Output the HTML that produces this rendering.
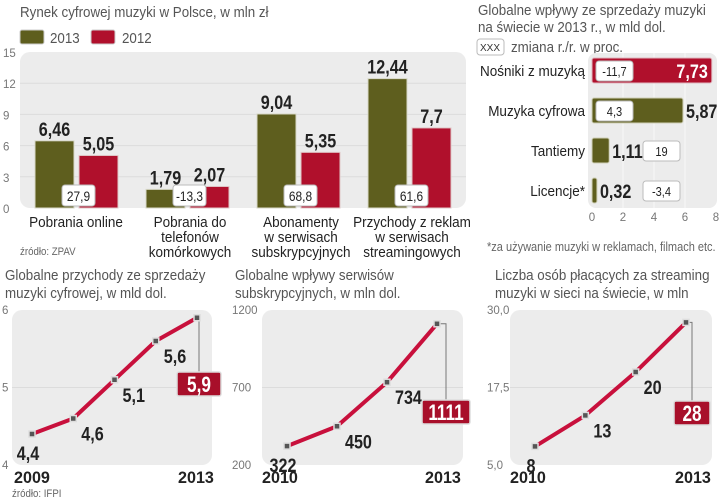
<!DOCTYPE html>
<html><head><meta charset="utf-8"><style>
body{margin:0;background:#fff}
svg{display:block;font-family:"Liberation Sans",sans-serif}
.t{fill:#555;font-size:15px}
.tk{fill:#777;font-size:11.5px}
.cat{fill:#222;font-size:15px}
.v{font-family:"Liberation Sans Narrow","Liberation Sans",sans-serif;font-weight:bold;font-size:19px;fill:#222}
.src{fill:#666;font-size:11px}
</style></head><body>
<svg id="c" width="720" height="501" viewBox="0 0 720 501">
<!-- Chart 1 -->
<text class="t" x="20" y="17">Rynek cyfrowej muzyki w Polsce, w mln zł</text>
<rect x="20" y="30" width="24" height="14" rx="2" fill="#5e5e1e" stroke="#ccc"/>
<text class="t" x="50" y="43">2013</text>
<rect x="91" y="30" width="24" height="14" rx="2" fill="#b0102c" stroke="#ccc"/>
<text class="t" x="122" y="43">2012</text>
<rect x="20" y="52" width="446" height="156" rx="10" fill="#ececec"/>
<g id="g1"></g>
<text class="cat" text-anchor="middle" x="76" y="227">Pobrania online</text>
<text class="cat" text-anchor="middle" x="190" y="227">Pobrania do</text>
<text class="cat" text-anchor="middle" x="190" y="242">telefonów</text>
<text class="cat" text-anchor="middle" x="190" y="257">komórkowych</text>
<text class="cat" text-anchor="middle" x="301" y="227">Abonamenty</text>
<text class="cat" text-anchor="middle" x="301" y="242">w serwisach</text>
<text class="cat" text-anchor="middle" x="301" y="257">subskrypcyjnych</text>
<text class="cat" text-anchor="middle" x="412" y="227">Przychody z reklam</text>
<text class="cat" text-anchor="middle" x="412" y="242">w serwisach</text>
<text class="cat" text-anchor="middle" x="412" y="257">streamingowych</text>
<text class="src" x="20" y="255">źródło: ZPAV</text>
<!-- Chart 2 -->
<text class="t" x="478" y="15">Globalne wpływy ze sprzedaży muzyki</text>
<text class="t" x="478" y="32">na świecie w 2013 r., w mld dol.</text>
<rect x="477" y="39" width="27" height="16" rx="3" fill="#fff" stroke="#bbb"/>
<text x="490" y="51" text-anchor="middle" font-size="10" fill="#333">XXX</text>
<text class="t" x="511" y="52" font-size="14">zmiana r./r. w proc.</text>
<rect x="588" y="53" width="129" height="155" rx="8" fill="#ececec"/>
<g id="g2"></g>
<text class="src" x="487" y="251" style="font-size:12.5px">*za używanie muzyki w reklamach, filmach etc.</text>
<!-- Line charts -->
<text class="t" x="5" y="280">Globalne przychody ze sprzedaży</text>
<text class="t" x="5" y="298">muzyki cyfrowej, w mld dol.</text>
<text class="t" x="235" y="280">Globalne wpływy serwisów</text>
<text class="t" x="235" y="298">subskrypcyjnych, w mln dol.</text>
<text class="t" x="495" y="280">Liczba osób płacących za streaming</text>
<text class="t" x="495" y="298">muzyki w sieci na świecie, w mln</text>
<text class="src" x="12" y="497">źródło: IFPI</text>
<g id="g3"></g>
</svg>
<script>
const barCats=['Pobrania online','Pobrania do telefonów komórkowych','Abonamenty w serwisach subskrypcyjnych','Przychody z reklam w serwisach streamingowych'];
const v2013=[6.46,1.79,9.04,12.44];
const v2012=[5.05,2.07,5.35,7.7];
const lbl2013=['6,46','1,79','9,04','12,44'];
const lbl2012=['5,05','2,07','5,35','7,7'];
const chg1=['27,9','-13,3','68,8','61,6'];
const yTicks1=[0,3,6,9,12,15];

const hCats=['Nośniki z muzyką','Muzyka cyfrowa','Tantiemy','Licencje*'];
const hVals=[7.73,5.87,1.11,0.32];
const hLbls=['7,73','5,87','1,11','0,32'];
const hChg=['-11,7','4,3','19','-3,4'];
const xTicks2=[0,2,4,6,8];

const lc1Vals=[4.4,4.6,5.1,5.6,5.9];
const lc1Lbls=['4,4','4,6','5,1','5,6','5,9'];
const lc1Ticks=['4','5','6'];
const lc2Vals=[322,450,734,1111];
const lc2Lbls=['322','450','734','1111'];
const lc2Ticks=['200','700','1200'];
const lc3Vals=[8,13,20,28];
const lc3Lbls=['8','13','20','28'];
const lc3Ticks=['5,0','17,5','30,0'];

const NS='http://www.w3.org/2000/svg';
function mk(parent,tag,attrs,name,text){
  const el=document.createElementNS(NS,tag);
  for(const k in attrs) el.setAttribute(k,attrs[k]);
  
  
  if(text!==undefined) el.textContent=text;
  parent.appendChild(el);return el;
}
const OL='#5e5e1e', RD='#b0102c';
// chart 1
const g1=document.getElementById('g1');
const y1=v=>208-v*10.4;
yTicks1.forEach(t=>{
  mk(g1,'text',{x:3,y:y1(t)+5,class:'tk'},'y-tick-label',String(t));
  if(t>0&&t<15) mk(g1,'line',{x1:20,x2:466,y1:y1(t),y2:y1(t),stroke:'#dcdcdc','stroke-width':1},'gridline');
});
barCats.forEach((c,i)=>{
  const gx=35+i*111, w=39;
  mk(g1,'rect',{x:gx,y:y1(v2013[i]),width:w,height:208-y1(v2013[i]),fill:OL,stroke:'#d8d8c8','stroke-width':1},'bar-2013');
  mk(g1,'rect',{x:gx+44,y:y1(v2012[i]),width:w,height:208-y1(v2012[i]),fill:RD,stroke:'#e0c8c8','stroke-width':1},'bar-2012');
  mk(g1,'text',{x:gx+w/2,y:y1(v2013[i])-5,class:'v','text-anchor':'middle'},'value-label-2013',lbl2013[i]);
  mk(g1,'text',{x:gx+44+w/2,y:y1(v2012[i])-5,class:'v','text-anchor':'middle'},'value-label-2012',lbl2012[i]);
  mk(g1,'rect',{x:gx+27,y:185,width:33,height:21,rx:3,fill:'#fff',stroke:'#bbb'},'change-box');
  mk(g1,'text',{x:gx+43.5,y:201,'text-anchor':'middle','font-size':14,fill:'#222',class:'ch'},'change-label',chg1[i]);
});
// chart 2
const g2=document.getElementById('g2');
const x2=v=>592+v*15.5;
xTicks2.forEach(t=>{
  mk(g2,'text',{x:x2(t),y:221,'text-anchor':'middle',class:'tk'},'x-tick-label',String(t));
  if(t>0&&t<8) mk(g2,'line',{x1:x2(t),x2:x2(t),y1:53,y2:208,stroke:'#f8f8f8','stroke-width':1},'gridline');
});
hCats.forEach((c,i)=>{
  const y=58+i*40, h=25;
  mk(g2,'text',{x:585,y:y+18,'text-anchor':'end',class:'cat'},'category-label',c);
  mk(g2,'rect',{x:x2(0),y:y,width:x2(hVals[i])-x2(0),height:h,rx:2,fill:i===0?RD:OL,stroke:i===0?'#e0b8c0':'#d0d0b8'},'hbar');
  const inside=hVals[i]>4;
  const bx=inside?x2(0)+4:x2(4)-11;
  mk(g2,'rect',{x:bx,y:y+3,width:37,height:20,rx:3,fill:'#fff',stroke:'#bbb'},'change-box');
  mk(g2,'text',{x:bx+18.5,y:y+18,'text-anchor':'middle','font-size':13,fill:'#222',class:'ch'},'change-label',hChg[i]);
  if(i===0) mk(g2,'text',{x:x2(hVals[i])-4,y:y+20,'text-anchor':'end',class:'v',style:'fill:#fff'},'value-label',hLbls[i]);
  else mk(g2,'text',{x:x2(hVals[i])+3,y:y+20,class:'v'},'value-label',hLbls[i]);
});
// line charts
const g3=document.getElementById('g3');
function line(cfg){
  const {vals,lbls,ticks,min,max,x0,x1,px,pr,tx,years,yl,last}=cfg;
  const Y=v=>465-(v-min)/(max-min)*155;
  const X=i=>x0+i*(x1-x0)/(vals.length-1);
  mk(g3,'rect',{x:px,y:310,width:pr-px,height:155,rx:10,fill:'#ececec'},'line-panel');
  mk(g3,'line',{x1:px,x2:pr,y1:387.5,y2:387.5,stroke:'#dcdcdc'},'gridline');
  ticks.forEach((t,k)=>mk(g3,'text',{x:tx,y:465-k*77.5+4,class:'tk'},'y-tick-label',t));
  const n=vals.length;
  const lx=X(n-1), ly=Y(vals[n-1]);
  mk(g3,'polyline',{points:`${lx},${ly} ${last.cx},${ly} ${last.cx},${last.y}`,fill:'none',stroke:'#777','stroke-width':1},'connector');
  mk(g3,'polyline',{points:vals.map((v,i)=>X(i)+','+Y(v)).join(' '),fill:'none',stroke:'#c8103c','stroke-width':4,'stroke-linejoin':'round'},'line-series');
  vals.forEach((v,i)=>{
    mk(g3,'rect',{x:X(i)-3,y:Y(v)-3,width:6,height:6,fill:'#555',stroke:'#ddd','stroke-width':1.5},'data-point');
    if(i===0) mk(g3,'text',{x:X(i)-4,y:Y(v)+26,'text-anchor':'middle',class:'v'},'point-label',lbls[i]);
    else if(i<n-1) mk(g3,'text',{x:X(i)+8,y:Y(v)+22,class:'v'},'point-label',lbls[i]);
  });
  mk(g3,'rect',{x:last.cx-last.w/2,y:last.y,width:last.w,height:24,rx:2,fill:'#a80f2a',stroke:'#ddd','stroke-width':1.5},'last-value-box');
  mk(g3,'text',{x:last.cx,y:last.y+20,'text-anchor':'middle',class:'v big',style:'fill:#fff;font-size:22px'},'last-value-label',lbls[n-1]);
  mk(g3,'text',{x:yl[0],y:483,class:'v yr',style:'font-size:17px'},'x-label-first',years[0]);
  mk(g3,'text',{x:yl[1],y:483,class:'v yr',style:'font-size:17px'},'x-label-last',years[1]);
}
line({vals:lc1Vals,lbls:lc1Lbls,ticks:lc1Ticks,min:4,max:6,x0:32,x1:197,px:12,pr:212,tx:2,years:['2009','2013'],yl:[14,178],last:{cx:199,y:372,w:44}});
line({vals:lc2Vals,lbls:lc2Lbls,ticks:lc2Ticks,min:200,max:1200,x0:287,x1:437,px:262,pr:463,tx:232,years:['2010','2013'],yl:[262,425],last:{cx:446,y:400,w:48}});
line({vals:lc3Vals,lbls:lc3Lbls,ticks:lc3Ticks,min:5,max:30,x0:535,x1:686,px:510,pr:712,tx:487,years:['2010','2013'],yl:[510,675],last:{cx:692,y:401,w:36}});

// condense text to mimic the narrow typeface
document.querySelectorAll('#c text').forEach(t=>{
  const cl=t.getAttribute('class')||'';
  let f=1;
  if(/\bt\b/.test(cl)) f=0.89;
  else if(/\bcat\b/.test(cl)) f=0.9;
  else if(/\bsrc\b/.test(cl)) f=0.88;
  else if(/\bbig\b/.test(cl)) f=0.78;
  else if(/\byr\b/.test(cl)) f=0.95;
  else if(/\bv\b/.test(cl)) f=0.85;
  else if(/\bch\b/.test(cl)) f=0.85;
  if(f<1){
    const L=t.getComputedTextLength();
    if(L>0){t.setAttribute('textLength',(L*f).toFixed(1));t.setAttribute('lengthAdjust','spacingAndGlyphs');}
  }
});
</script>
</body></html>
